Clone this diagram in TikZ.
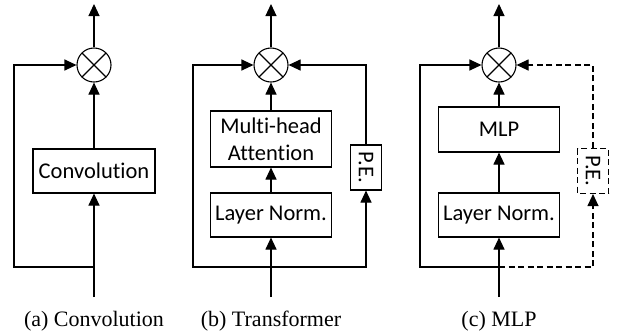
\documentclass[tikz,border=0pt]{standalone}
\usepackage{fontspec}
\setmainfont{Liberation Serif}
\newfontfamily\boxfont[Ligatures=NoCommon]{Carlito}
\usetikzlibrary{arrows.meta}
\begin{document}
\begin{tikzpicture}[x=1pt,y=-1pt,
  line width=1.1pt,
  blk/.style={draw, line width=1.1pt, minimum height=44pt, minimum width=121pt, inner sep=0pt,
    font=\boxfont\fontsize{22.5}{27}\selectfont, align=center},
  pebox/.style={draw, line width=1.1pt, rotate=-90, minimum width=45pt, minimum height=31pt, inner sep=0pt,
    font=\boxfont\fontsize{22.5}{27}\selectfont},
  mul/.style={draw, circle, line width=1.1pt, minimum size=34pt, inner sep=0pt,
    path picture={\draw[line width=1.1pt] (path picture bounding box.north west) -- (path picture bounding box.south east)
      (path picture bounding box.north east) -- (path picture bounding box.south west);}},
  arr/.style={-{Triangle[length=12pt,width=11pt]}},
  dsh/.style={dash pattern=on 6pt off 3.5pt},
  captxt/.style={anchor=base, font=\fontsize{22}{26}\selectfont}
]
\useasboundingbox (0,0) rectangle (618,333);

% (a) Convolution
\node[mul] (m1) at (94,65) {};
\node[blk, minimum width=122pt] (conv) at (94,171) {Convolution};
\coordinate (in1) at (94,297);
\coordinate (j1) at (94,267);
\coordinate (out1) at (94,4);
\coordinate (l1) at (14,65);
\draw[arr] (in1) -- (conv);
\draw[arr] (conv) -- (m1);
\draw[arr] (m1) -- (out1);
\draw[arr] (j1) -| (l1) -- (m1);
\node[captxt] (c1) at (94,326) {(a) Convolution};

% (b) Transformer
\node[mul] (m2) at (271,65) {};
\node[blk, minimum height=56pt] (mha) at (271,139) {Multi-head\\Attention};
\node[blk] (ln2) at (271,215) {Layer Norm.};
\node[pebox] (pe2) at (366,167.5) {P.E.};
\coordinate (in2) at (271,297);
\coordinate (j2) at (271,267);
\coordinate (out2) at (271,4);
\coordinate (l2) at (193,65);
\draw[arr] (in2) -- (ln2);
\draw[arr] (ln2) -- (mha);
\draw[arr] (mha) -- (m2);
\draw[arr] (m2) -- (out2);
\draw[arr] (j2) -| (l2) -- (m2);
\draw[arr] (j2) -| (pe2);
\draw[arr] (pe2) |- (m2);
\node[captxt] (c2) at (271,326) {(b) Transformer};

% (c) MLP
\node[mul] (m3) at (499,65) {};
\node[blk, minimum height=45pt] (mlp) at (499,129.5) {MLP};
\node[blk] (ln3) at (499,215) {Layer Norm.};
\node[pebox, dsh] (pe3) at (593,171) {P.E.};
\coordinate (in3) at (499,297);
\coordinate (j3) at (499,267);
\coordinate (out3) at (499,4);
\coordinate (l3) at (420,65);
\draw[arr] (in3) -- (ln3);
\draw[arr] (ln3) -- (mlp);
\draw[arr] (mlp) -- (m3);
\draw[arr] (m3) -- (out3);
\draw[arr] (j3) -| (l3) -- (m3);
\draw[arr, dsh] (j3) -| (pe3);
\draw[arr, dsh] (pe3) |- (m3);
\node[captxt] (c3) at (499,326) {(c) MLP};
\end{tikzpicture}
\end{document}
